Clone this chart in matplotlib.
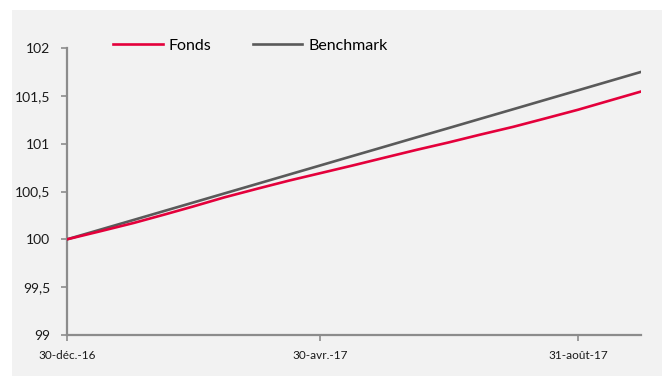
import numpy as np
import pandas as pd
import matplotlib.pyplot as plt
import matplotlib.dates as mdates
from matplotlib.patches import Rectangle

# Semi-monthly readings taken off the chart
dates = pd.to_datetime([
    "2016-12-30", "2017-01-15", "2017-01-31", "2017-02-15", "2017-02-28",
    "2017-03-15", "2017-03-31", "2017-04-15", "2017-04-30", "2017-05-15",
    "2017-05-31", "2017-06-15", "2017-06-30", "2017-07-15", "2017-07-31",
    "2017-08-15", "2017-08-31", "2017-09-15", "2017-09-30",
])
fonds = [100.000, 100.085, 100.172, 100.262, 100.342, 100.438, 100.530, 100.614, 100.692, 100.770,
         100.856, 100.936, 101.012, 101.093, 101.176, 101.262, 101.355, 101.450, 101.545]
benchmark = [100.000, 100.102, 100.204, 100.300, 100.383, 100.479, 100.581, 100.677, 100.773, 100.869,
             100.971, 101.067, 101.162, 101.258, 101.360, 101.456, 101.558, 101.654, 101.750]

xticks = pd.to_datetime(["2016-12-30", "2017-04-30", "2017-08-31"])
xticklabels = ["30-déc.-16", "30-avr.-17", "31-août-17"]
yticks = [99, 99.5, 100, 100.5, 101, 101.5, 102]
yticklabels = ["99", "99,5", "100", "100,5", "101", "101,5", "102"]

plt.rcParams['font.family'] = ['Lato', 'DejaVu Sans']

W, H = 664, 376
fig = plt.figure(figsize=(W/100, H/100), dpi=100)
fig.patch.set_facecolor("white")
# grey panel behind the chart
fig.patches.append(Rectangle((12/W, 0), 650/W, 1 - 10/H, transform=fig.transFigure,
                             facecolor="#f2f2f2", edgecolor="none", zorder=-10))

ax = fig.add_axes([67/W, 1 - 335/H, (641-67)/W, (335-48)/H])
ax.set_facecolor("none")

ax.plot(dates, benchmark, color="#5a5a5a", lw=1.9, label="Benchmark", zorder=3)
ax.plot(dates, fonds, color="#e4003b", lw=1.9, label="Fonds", zorder=4)

ax.set_xlim(dates[0], dates[-1])
ax.set_ylim(99, 102)
ax.set_yticks(yticks)
ax.set_yticklabels(yticklabels)
ax.set_xticks(xticks)
ax.set_xticklabels(xticklabels)

for s in ["top", "right"]:
    ax.spines[s].set_visible(False)
for s in ["left", "bottom"]:
    ax.spines[s].set_color("#8c8c8c")
    ax.spines[s].set_linewidth(1.6)
ax.tick_params(axis="y", colors="#8c8c8c", labelcolor="#1a1a1a", length=4, width=1.2,
               pad=8, labelsize=10)
ax.tick_params(axis="x", colors="#8c8c8c", labelcolor="#1a1a1a", length=4, width=1.2,
               pad=7, labelsize=8.5)

h, l = ax.get_legend_handles_labels()
ax.legend([h[1], h[0]], [l[1], l[0]], ncol=2, frameon=False, fontsize=11.5,
          handlelength=3.1, handletextpad=0.37, columnspacing=2.6, borderpad=0,
          borderaxespad=0, loc="center left",
          bbox_to_anchor=(113/W, 1 - 46/H), bbox_transform=fig.transFigure)

fig.savefig("out.png", dpi=100, facecolor=fig.get_facecolor())
